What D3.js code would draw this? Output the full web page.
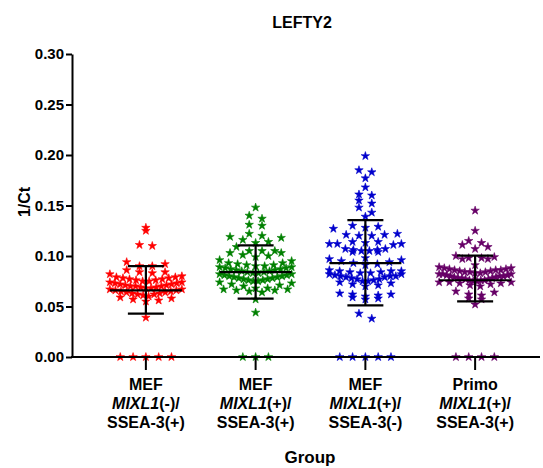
<!DOCTYPE html>
<html><head><meta charset="utf-8">
<script src="https://cdn.jsdelivr.net/npm/d3@7"></script>
<style>body{margin:0;background:#fff;} text{font-family:"Liberation Sans",Arial,sans-serif;font-weight:bold;}</style>
</head><body><svg id="c" width="543" height="468"></svg>
<script>
const categories = ["g1","g2","g3","g4"];
const labelLine1 = ["MEF","MEF","MEF","Primo"];
const labelItalic = ["MIXL1","MIXL1","MIXL1","MIXL1"];
const labelRest = ["(-)/","(+)/","(+)/","(+)/"];
const labelLine3 = ["SSEA-3(+)","SSEA-3(+)","SSEA-3(-)","SSEA-3(+)"];
const colors = ["#ff0000","#008000","#0000cc","#660066"];
const yTicks = [0,0.05,0.10,0.15,0.20,0.25,0.30];

const redValues = [0,0,0,0,0,
 0.128,0.125,0.111,0.110,
 0.094,0.092,0.090,0.090,
 0.086,0.084,0.084,0.083,0.082,
 0.080,0.079,0.079,0.078,0.078,0.077,0.077,0.076,0.076,0.075,0.075,0.074,0.074,0.073,0.073,0.072,0.072,0.071,0.071,0.070,0.070,0.070,0.069,0.069,0.068,0.068,0.067,0.067,0.066,0.066,0.065,0.065,0.064,0.064,0.063,0.063,0.062,0.062,0.061,0.060,0.059,0.058,0.057,0.056,0.055,
 0.039];
const greenValues = [0,0,0,
 0.148,0.140,0.137,0.131,0.130,0.122,0.119,0.118,0.120,0.116,0.114,0.113,
 0.109,0.105,0.105,0.105,0.103,0.103,0.101,0.100,0.099,
 0.096,0.095,0.093,0.093,
 0.092,0.091,0.091,0.090,0.090,0.089,0.089,0.088,0.088,0.087,0.087,0.086,0.086,0.085,0.085,0.084,0.084,0.083,0.083,0.082,0.082,0.081,0.081,0.080,0.080,0.079,0.079,0.078,0.078,0.077,0.077,0.076,0.076,0.075,0.075,0.074,0.073,0.072,0.071,0.070,
 0.068,0.068,0.067,0.067,0.066,0.066,0.065,0.064,
 0.057,0.044];
const blueValues = [0,0,0,0,0,
 0.199,0.185,0.183,0.177,0.168,0.161,0.160,0.155,0.152,0.148,0.143,0.139,
 0.130,0.129,0.128,0.127,0.122,0.121,0.121,0.120,0.120,
 0.114,0.113,0.112,0.112,0.111,0.112,0.114,
 0.107,0.106,0.105,0.104,0.104,0.105,0.106,0.107,
 0.098,0.097,0.096,0.095,0.094,0.093,0.092,0.091,
 0.086,0.085,0.085,0.084,0.085,0.080,0.080,
 0.084,0.083,0.082,0.081,0.080,0.079,0.078,0.077,0.076,0.075,0.074,0.073,0.072,0.071,0.070,0.083,0.082,0.079,0.077,0.075,
 0.063,0.062,0.061,0.060,0.059,0.058,0.057,0.062,
 0.043,0.038];
const purpleValues = [0,0,0,0,
 0.145,0.125,0.115,0.113,0.111,0.109,0.107,
 0.099,0.098,0.097,0.097,0.098,0.100,
 0.091,0.089,
 0.088,0.088,0.087,0.087,0.086,0.086,0.085,0.085,0.084,0.084,0.083,0.083,0.082,0.082,0.081,0.081,0.080,0.080,0.079,0.079,0.078,0.078,0.077,0.077,0.076,0.076,0.075,0.075,0.074,0.074,0.073,0.073,0.072,0.071,0.070,0.086,0.084,0.082,0.080,0.078,0.076,0.074,
 0.065,0.062,0.058,0.052,0.057,0.061,0.064];
const seriesValues = [redValues, greenValues, blueValues, purpleValues];
const means = [0.066, 0.084, 0.093, 0.076];
const sdUpper = [0.090, 0.1106, 0.1356, 0.1003];
const sdLower = [0.043, 0.0577, 0.0512, 0.0551];

const svg = d3.select("#c");
const axisX = 72, axisY0 = 357, axisYTop = 54, axisXEnd = 540;
const y = d3.scaleLinear().domain([0,0.30]).range([axisY0, axisYTop]);
const x = d3.scaleBand().domain(categories).range([91,530]).padding(0);
const cx = c => x(c) + x.bandwidth()/2;

// points
const star = d3.symbol().type(d3.symbolStar).size(22);
function swarm(vals){
  const h = 0.0075;
  const bins = d3.group(vals, v => v===0 ? -1 : Math.floor(v/h));
  const out = [];
  for (const [k, arr] of bins){
    const a = arr.slice().sort(d3.ascending);
    const n = a.length;
    const s = n>1 ? Math.min(12.8, 72/(n-1)) : 0;
    a.forEach((v,i)=>{
      let off;
      if (n%2===1){ const j=Math.ceil(i/2); off = (i%2===1?1:-1)*j*s; }
      else { const j=Math.floor(i/2); off = (i%2===0?1:-1)*(j+0.5)*s; }
      out.push({v, off});
    });
  }
  return out;
}
categories.forEach((c,gi)=>{
  const pts = swarm(seriesValues[gi]);
  svg.append("g").selectAll("path").data(pts).join("path")
    .attr("d", star)
    .attr("transform", d=>`translate(${cx(c)+d.off},${y(d.v)})`)
    .attr("fill", colors[gi]).attr("stroke", colors[gi]).attr("stroke-width",0.6).attr("stroke-linejoin","round");
});

// axes
const yAxis = d3.axisLeft(y).tickValues(yTicks).tickFormat(d3.format(".2f")).tickSize(6).tickSizeOuter(0);
const gy = svg.append("g").attr("transform",`translate(${axisX},0)`).call(yAxis);
gy.select(".domain").attr("stroke","#000").attr("stroke-width",2);
gy.selectAll(".tick line").attr("stroke","#000").attr("stroke-width",2);
gy.selectAll(".tick text").attr("font-size",15).attr("font-family","Liberation Sans, Arial, sans-serif").attr("font-weight","bold").attr("fill","#000").attr("x",-8);

svg.append("line").attr("x1",axisX-1).attr("x2",axisXEnd).attr("y1",axisY0).attr("y2",axisY0).attr("stroke","#000").attr("stroke-width",2);
categories.forEach(c=>{
  svg.append("line").attr("x1",cx(c)).attr("x2",cx(c)).attr("y1",axisY0).attr("y2",axisY0+13).attr("stroke","#000").attr("stroke-width",2);
});

// mean and SD
categories.forEach((c,gi)=>{
  const g = svg.append("g").attr("stroke","#000").attr("stroke-width",2.2);
  const X = cx(c);
  g.append("line").attr("x1",X-36).attr("x2",X+36).attr("y1",y(means[gi])).attr("y2",y(means[gi]));
  g.append("line").attr("x1",X).attr("x2",X).attr("y1",y(sdUpper[gi])).attr("y2",y(sdLower[gi]));
  g.append("line").attr("x1",X-18).attr("x2",X+18).attr("y1",y(sdUpper[gi])).attr("y2",y(sdUpper[gi]));
  g.append("line").attr("x1",X-18).attr("x2",X+18).attr("y1",y(sdLower[gi])).attr("y2",y(sdLower[gi]));
});

// x labels
categories.forEach((c,gi)=>{
  const t = svg.append("text").attr("text-anchor","middle").attr("font-size",16).attr("fill","#000");
  t.append("tspan").attr("x",cx(c)).attr("y",390).text(labelLine1[gi]);
  const t2 = t.append("tspan").attr("x",cx(c)).attr("y",409);
  t2.append("tspan").attr("font-style","italic").text(labelItalic[gi]);
  t2.append("tspan").text(labelRest[gi]);
  t.append("tspan").attr("x",cx(c)).attr("y",428).text(labelLine3[gi]);
});

svg.append("text").attr("x",310).attr("y",463).attr("text-anchor","middle").attr("font-size",17).text("Group");
svg.append("text").attr("x",302).attr("y",28).attr("text-anchor","middle").attr("font-size",16).text("LEFTY2");
svg.append("text").attr("transform","translate(30,202) rotate(-90)").attr("text-anchor","middle").attr("font-size",16).text("1/Ct");
</script></body></html>
